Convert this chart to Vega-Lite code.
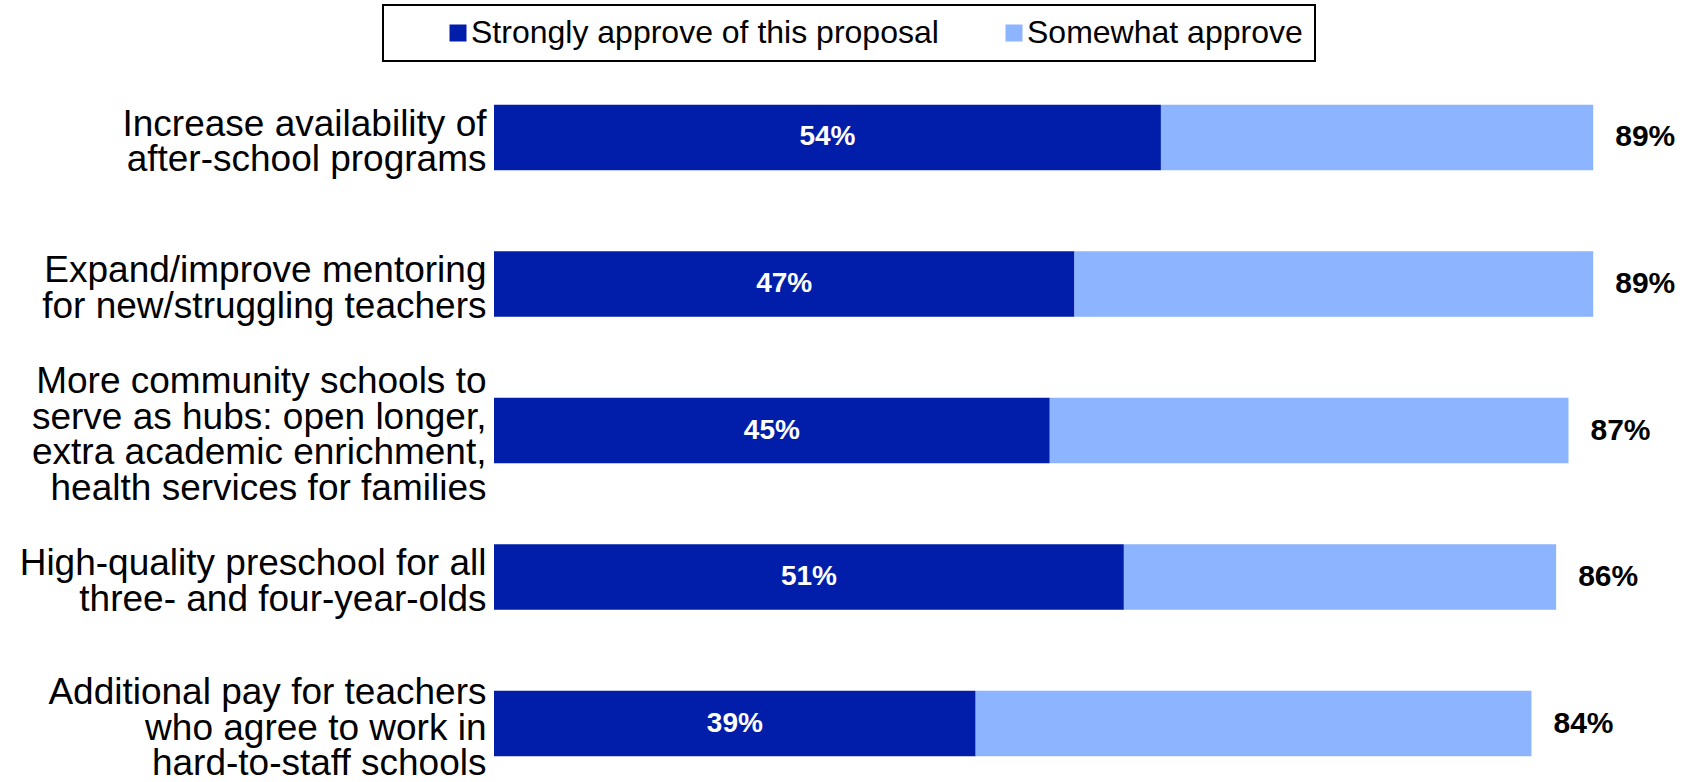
{
  "$schema": "https://vega.github.io/schema/vega-lite/v6.json",
  "width": 1198,
  "height": 681,
  "autosize": {"type": "none"},
  "padding": {"left": 494, "top": 90, "right": 0, "bottom": 11},
  "background": "white",
  "config": {"view": {"stroke": null}, "font": "Liberation Sans", "legend": {"strokeWidth": 2}},
  "datasets": {
    "segments": [
      {"category": "Increase availability of|after-school programs", "response": "Strongly approve of this proposal", "value": 0.54, "rank": 1},
      {"category": "Increase availability of|after-school programs", "response": "Somewhat approve", "value": 0.35, "rank": 2},
      {"category": "Expand/improve mentoring|for new/struggling teachers", "response": "Strongly approve of this proposal", "value": 0.47, "rank": 1},
      {"category": "Expand/improve mentoring|for new/struggling teachers", "response": "Somewhat approve", "value": 0.42, "rank": 2},
      {"category": "More community schools to|serve as hubs: open longer,|extra academic enrichment,|health services for families", "response": "Strongly approve of this proposal", "value": 0.45, "rank": 1},
      {"category": "More community schools to|serve as hubs: open longer,|extra academic enrichment,|health services for families", "response": "Somewhat approve", "value": 0.42, "rank": 2},
      {"category": "High-quality preschool for all|three- and four-year-olds", "response": "Strongly approve of this proposal", "value": 0.51, "rank": 1},
      {"category": "High-quality preschool for all|three- and four-year-olds", "response": "Somewhat approve", "value": 0.35, "rank": 2},
      {"category": "Additional pay for teachers|who agree to work in|hard-to-staff schools", "response": "Strongly approve of this proposal", "value": 0.39, "rank": 1},
      {"category": "Additional pay for teachers|who agree to work in|hard-to-staff schools", "response": "Somewhat approve", "value": 0.45, "rank": 2}
    ],
    "totals": [
      {"category": "Increase availability of|after-school programs", "strong": 0.54, "total": 0.89},
      {"category": "Expand/improve mentoring|for new/struggling teachers", "strong": 0.47, "total": 0.89},
      {"category": "More community schools to|serve as hubs: open longer,|extra academic enrichment,|health services for families", "strong": 0.45, "total": 0.87},
      {"category": "High-quality preschool for all|three- and four-year-olds", "strong": 0.51, "total": 0.86},
      {"category": "Additional pay for teachers|who agree to work in|hard-to-staff schools", "strong": 0.39, "total": 0.84}
    ]
  },
  "layer": [
    {
      "data": {"name": "segments"},
      "mark": {"type": "bar"},
      "encoding": {
        "y": {
          "field": "category", "type": "nominal",
          "sort": [
            "Increase availability of|after-school programs",
            "Expand/improve mentoring|for new/struggling teachers",
            "More community schools to|serve as hubs: open longer,|extra academic enrichment,|health services for families",
            "High-quality preschool for all|three- and four-year-olds",
            "Additional pay for teachers|who agree to work in|hard-to-staff schools"
          ],
          "scale": {"paddingInner": 0.553, "paddingOuter": 0.1},
          "axis": {
            "title": null, "domain": false, "ticks": false, "labelPadding": 8,
            "labelFontSize": 37, "labelLineHeight": 35.5, "labelColor": "black",
            "labelFont": "Liberation Sans", "labelLimit": 0,
            "labelExpr": "split(datum.label, '|')",
            "labelOffset": {"expr": "5 - (length(split(datum.value, '|')) - 1) * 17.75"}
          }
        },
        "x": {"field": "value", "type": "quantitative", "stack": "zero", "scale": {"domain": [0, 0.97], "nice": false, "zero": true}, "axis": null},
        "color": {
          "field": "response", "type": "nominal",
          "scale": {"domain": ["Strongly approve of this proposal", "Somewhat approve"], "range": ["#001EAA", "#8CB4FF"]},
          "legend": {
            "orient": "none", "legendX": -111, "legendY": -85, "direction": "horizontal",
            "title": null, "symbolType": "square", "symbolSize": 289, "symbolStrokeWidth": 0,
            "labelFontSize": 32, "labelFont": "Liberation Sans", "labelColor": "black", "labelLimit": 0,
            "strokeColor": "black", "fillColor": "white", "padding": 12,
            "symbolOffset": 47, "labelOffset": -3, "columnPadding": 12
          }
        },
        "order": {"field": "rank", "type": "quantitative"}
      }
    },
    {
      "data": {"name": "totals"},
      "mark": {"type": "text", "color": "white", "fontWeight": "bold", "fontSize": 28, "font": "Liberation Sans", "baseline": "middle", "align": "center"},
      "encoding": {
        "y": {"field": "category", "type": "nominal", "sort": [
            "Increase availability of|after-school programs",
            "Expand/improve mentoring|for new/struggling teachers",
            "More community schools to|serve as hubs: open longer,|extra academic enrichment,|health services for families",
            "High-quality preschool for all|three- and four-year-olds",
            "Additional pay for teachers|who agree to work in|hard-to-staff schools"
          ]},
        "x": {"field": "strong", "type": "quantitative", "scale": {"domain": [0, 1.94], "nice": false, "zero": true}, "axis": null},
        "text": {"field": "strong", "type": "quantitative", "format": ".0%"}
      }
    },
    {
      "data": {"name": "totals"},
      "mark": {"type": "text", "color": "black", "fontWeight": "bold", "fontSize": 30, "font": "Liberation Sans", "baseline": "middle", "align": "left", "dx": 22},
      "encoding": {
        "y": {"field": "category", "type": "nominal", "sort": [
            "Increase availability of|after-school programs",
            "Expand/improve mentoring|for new/struggling teachers",
            "More community schools to|serve as hubs: open longer,|extra academic enrichment,|health services for families",
            "High-quality preschool for all|three- and four-year-olds",
            "Additional pay for teachers|who agree to work in|hard-to-staff schools"
          ]},
        "x": {"field": "total", "type": "quantitative", "scale": {"domain": [0, 0.97], "nice": false, "zero": true}, "axis": null},
        "text": {"field": "total", "type": "quantitative", "format": ".0%"}
      }
    }
  ],
  "resolve": {"scale": {"x": "independent"}}
}
